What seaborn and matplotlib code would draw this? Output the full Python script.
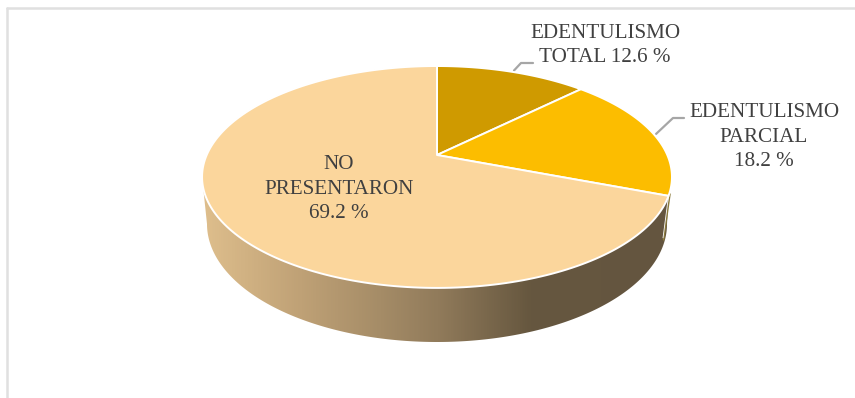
import numpy as np
import matplotlib
matplotlib.use("Agg")
import matplotlib.pyplot as plt
from matplotlib.colors import LinearSegmentedColormap
from matplotlib.patches import Polygon
import seaborn as sns

categories = ["EDENTULISMO\nTOTAL", "EDENTULISMO\nPARCIAL", "NO\nPRESENTARON"]
percentages = [12.6, 18.2, 69.2]
slice_colors = ["#CF9A00", "#FCBD00", "#FBD69C"]

sns.set_theme(style="white")
plt.rcParams["font.family"] = ["Liberation Serif", "DejaVu Serif"]

TEXT = "#404040"
LEADER = "#A6A6A6"
FRAME = "#E0E0E0"

fig = plt.figure(figsize=(8.55, 3.98), dpi=100)
ax = fig.add_axes([0, 0, 1, 1])
ax.set_xlim(0, 855)
ax.set_ylim(398, 0)
ax.axis("off")

# Tilted disc: a circle seen in perspective, so the hub sits above the ellipse centre.
HUB_X, HUB_Y = 437.0, 155.0
A, B, K = 230.3, 106.6, 0.198


def rim(theta):
    """Screen position of a rim angle, measured clockwise from twelve o'clock."""
    u, v = np.sin(theta), np.cos(theta)
    d = 1 + K * v
    return HUB_X + A * u / d, HUB_Y - B * v / d


edges = np.concatenate([[0], np.cumsum(percentages)]) / sum(percentages) * 2 * np.pi

# Side wall of the cylinder, shaded from left to right.
LOW_X, LOW_Y, LOW_RX, LOW_RY = 437.0, 224.0, 230.0, 118.0
split = edges[2]
left_angle = 2 * np.pi - np.arccos(-K)
front = np.linspace(split, left_angle, 300)
upper_x, upper_y = rim(front)
t = np.linspace(0, np.pi, 300)
lower_x = LOW_X + LOW_RX * np.cos(t)
lower_y = LOW_Y + LOW_RY * np.sin(t)
wall_pts = np.column_stack([np.r_[upper_x, lower_x[::-1]], np.r_[upper_y, lower_y[::-1]]])
wall = Polygon(wall_pts, closed=True, fc="none", ec="none")
ax.add_patch(wall)

x0, x1 = 200.0, 672.0
stops = [(200, "#DFBF8D"), (300, "#BFA176"), (380, "#A58C67"), (437, "#917B5B"),
         (530, "#66573F"), (672, "#645540")]
shade = LinearSegmentedColormap.from_list(
    "wall", [((s - x0) / (x1 - x0), c) for s, c in stops])
im = ax.imshow(np.linspace(0, 1, 472)[None, :], cmap=shade, aspect="auto",
               extent=[x0, x1, 345, 150], zorder=1)
im.set_clip_path(wall)
ax.set_xlim(0, 855)
ax.set_ylim(398, 0)

# Narrow sliver of the yellow slice's wall at the right-hand edge.
sx, sy = rim(split)
ax.plot([sx + 1.5, sx - 5], [sy - 2, sy + 44], color="#8C7C3C", lw=1.1, zorder=1.5)
ax.plot([sx, sx - 5.5], [sy, sy + 42], color="white", lw=0.6, zorder=1.6)

# Top face slices.
for start, stop, color in zip(edges[:-1], edges[1:], slice_colors):
    th = np.linspace(start, stop, 200)
    xs, ys = rim(th)
    ax.fill(np.r_[HUB_X, xs], np.r_[HUB_Y, ys], fc=color, ec="white", lw=1.4,
            joinstyle="round", zorder=2)

# Labels and their leader lines.
label_xy = [(605, 45.5), (764, 137), (339, 189)]
for name, pct, (lx, ly) in zip(categories, percentages, label_xy):
    head, tail = name.split("\n")
    if name.startswith("EDENTULISMO\nTOTAL"):
        text = f"{head}\n{tail} {pct} %"
    else:
        text = f"{head}\n{tail}\n{pct} %"
    ax.text(lx, ly, text, ha="center", va="center", color=TEXT, fontsize=15.2,
            linespacing=1.36, zorder=3)

ax.plot([514, 521, 533], [70.5, 63, 63], color=LEADER, lw=1.6, zorder=1.8)
ax.plot([656, 673, 684], [134, 118, 118], color=LEADER, lw=1.6, zorder=1.8)

# Chart-area frame along the top and left.
ax.plot([7, 855], [7.5, 7.5], color=FRAME, lw=1.8, zorder=0)
ax.plot([7, 7], [7.5, 398], color=FRAME, lw=1.8, zorder=0)

fig.savefig("out.png", dpi=100, facecolor="white")
